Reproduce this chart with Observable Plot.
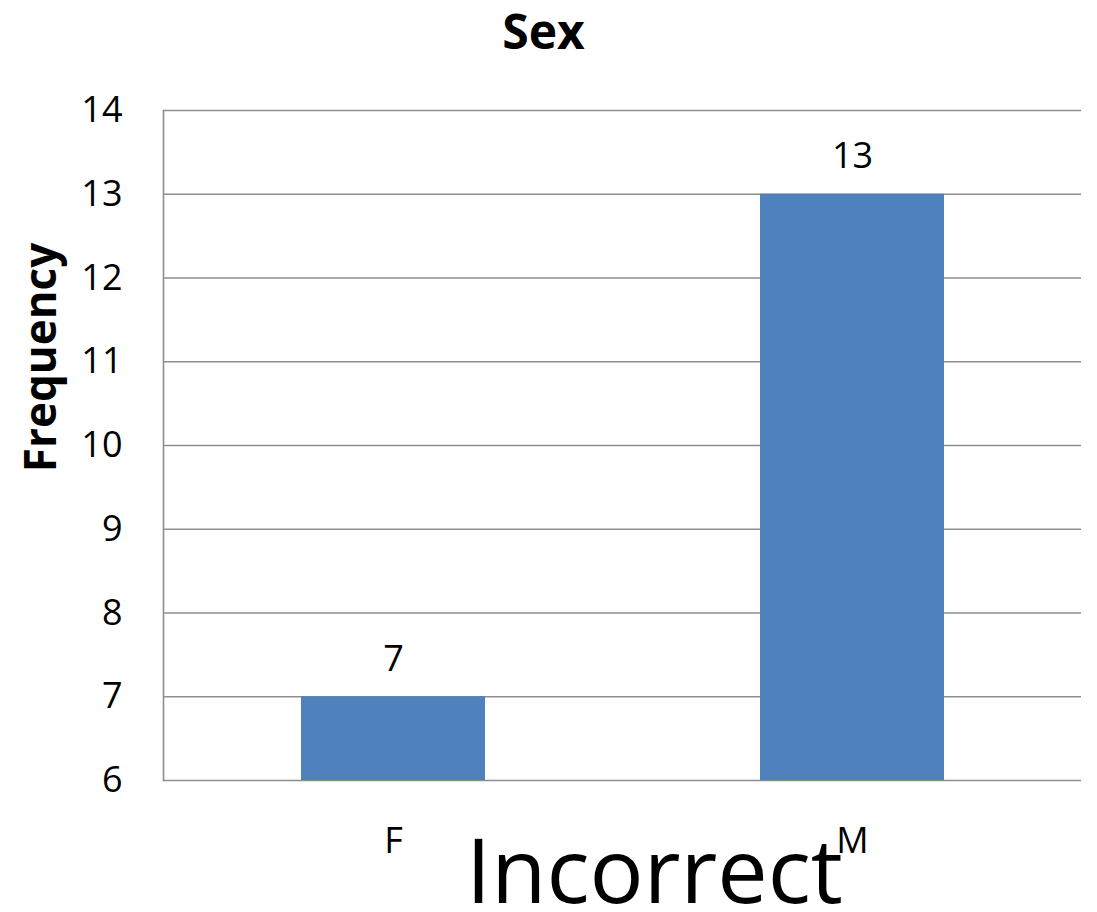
<!DOCTYPE html>
<html>
<head>
<meta charset="utf-8">
<script src="https://cdn.jsdelivr.net/npm/d3@7"></script>
<script src="https://cdn.jsdelivr.net/npm/@observablehq/plot@0.6"></script>
<style>
  html, body { margin: 0; padding: 0; background: #fff; }
  #chart svg { display: block; }
</style>
</head>
<body>
<div id="chart"></div>
<script>
const categories = ["F", "M"];
const frequencies = [7, 13];
const yTicks = [6, 7, 8, 9, 10, 11, 12, 13, 14];
const yMin = 6;
const yMax = 14;
const titleText = "Sex";
const yLabelText = "Frequency";
const overlayText = "Incorrect";

const data = categories.map((c, i) => ({category: c, value: frequencies[i]}));

const font = "'Open Sans', Lato, sans-serif";
const gridColor = "#8e8e8e";

const chart = Plot.plot({
  width: 1097,
  height: 912,
  marginLeft: 163,
  marginRight: 16,
  marginTop: 110,
  marginBottom: 132,
  style: {fontFamily: font, background: "#fff", color: "#000"},
  x: {domain: categories, paddingInner: 0.6, paddingOuter: 0.3, label: null},
  y: {domain: [yMin, yMax], label: null},
  marks: [
    Plot.ruleY(yTicks, {stroke: gridColor, strokeWidth: 1.6}),
    Plot.frame({anchor: "left", stroke: gridColor, strokeWidth: 1.6}),
    Plot.barY(data, {x: "category", y1: d => yMin, y2: "value", fill: "#4f81bd", inset: 0}),
    Plot.text(data, {x: "category", y: "value", text: d => String(d.value), lineAnchor: "bottom", dy: -26, fontSize: 36, fill: "#000"}),
    Plot.axisY({ticks: yTicks, tickSize: 0, tickPadding: 41, fontSize: 36, tickFormat: d => String(d), label: null}),
    Plot.axisX({tickSize: 0, tickPadding: 47, fontSize: 36, label: null}),
    Plot.text([titleText], {frameAnchor: "top", textAnchor: "middle", lineAnchor: "bottom", dx: -79, dy: -62, fontSize: 48, fontWeight: "bold", fill: "#000"}),
    Plot.text([yLabelText], {frameAnchor: "left", textAnchor: "middle", rotate: -90, lineAnchor: "bottom", dx: -108, dy: -88, fontSize: 44, fontWeight: "bold", fill: "#000"}),
    Plot.text([overlayText], {frameAnchor: "bottom", textAnchor: "middle", lineAnchor: "bottom", dx: 32, dy: 122, fontSize: 90, fill: "#000"})
  ]
});
document.getElementById("chart").appendChild(chart);
</script>
</body>
</html>
